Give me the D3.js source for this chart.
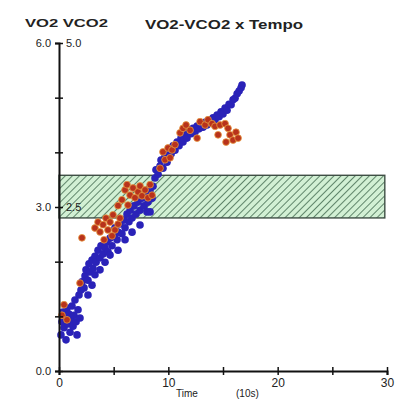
<!DOCTYPE html>
<html>
<head>
<meta charset="utf-8">
<script src="https://cdn.jsdelivr.net/npm/d3@7"></script>
<style>
  body { margin: 0; background: #fff; }
  text { font-family: "Liberation Sans", Arial, sans-serif; fill: #222; }
</style>
</head>
<body>
<svg id="chart"></svg>
<script>
// time in units of 10 s
var vo2Time = [0.18,0.27,0.37,0.46,0.55,0.64,0.73,0.82,0.91,1.01,1.10,1.19,1.28,1.37,1.46,1.56,1.65,1.74,1.83,1.92,
  2.01,2.10,2.29,2.38,2.47,2.65,2.74,2.84,3.02,3.11,3.29,3.39,3.57,3.75,3.84,4.03,4.21,4.39,4.48,4.67,4.85,5.03,5.12,5.31,5.40,
  5.58,5.76,5.95,6.04,6.22,6.40,6.50,6.68,6.86,7.04,7.23,7.41,7.59,7.78,7.96,8.14,8.33,8.51,8.60,8.78,8.87,9.06,9.24,9.33,9.51,
  9.70,9.88,10.06,10.25,10.43,10.61,10.80,10.98,11.16,11.34,11.53,11.71,11.89,12.08,12.26,12.44,12.63,12.81,12.99,13.17,13.36,
  13.54,13.72,13.91,14.09,14.27,14.46,14.64,14.82,15.00,15.19,15.37,15.55,15.74,15.92,16.10,16.29,16.47,16.65,16.74,
  3.29,3.75,4.21,4.67,5.40,6.04,6.68,7.41,8.05,8.33,2.65,3.02]
var vo2 = [0.66,0.90,1.08,0.79,0.97,0.57,1.15,0.86,1.04,0.71,0.93,1.19,0.82,1.02,1.30,0.90,0.66,1.12,1.39,0.97,
  1.48,1.63,1.52,1.74,1.85,1.66,1.96,1.81,2.03,1.88,2.10,1.99,2.21,2.07,2.29,2.14,2.25,2.36,2.18,2.43,2.29,2.47,2.62,2.40,2.54,
  2.69,2.51,2.76,2.62,2.87,2.73,2.94,2.80,3.02,2.87,3.09,2.94,3.16,3.02,3.24,3.09,3.31,3.16,3.38,3.53,3.68,3.60,3.75,3.86,3.71,
  3.93,3.82,4.04,3.97,4.12,4.04,4.19,4.12,4.26,4.19,4.34,4.26,4.41,4.34,4.44,4.37,4.48,4.43,4.52,4.46,4.55,
  4.50,4.59,4.55,4.63,4.59,4.68,4.65,4.74,4.70,4.81,4.77,4.88,4.87,4.96,4.99,5.07,5.12,5.18,5.23,
  1.76,1.85,1.99,2.12,2.21,2.40,2.54,2.67,2.91,2.91,1.39,1.57]

var vco2Time = [0.27,0.46,0.73,1.92,2.10,3.29,3.57,3.75,4.03,4.30,4.48,4.67,4.94,5.12,5.40,5.58,4.12,4.85,
  5.76,6.04,6.22,6.50,6.77,6.95,7.23,7.41,7.59,7.87,8.14,8.33,8.51,6.31,5.40,
  9.24,9.51,9.70,9.97,10.16,10.34,11.07,11.34,11.62,11.99,12.90,13.36,13.63,14.00,14.27,14.73,15.19,15.46,15.64,15.92,16.19,16.38,15.28,14.55,12.63,10.61]
var vco2 = [0.85,1.01,0.78,1.34,2.03,2.18,2.27,2.12,2.23,2.33,2.15,2.27,2.38,2.15,2.24,2.33,2.00,2.06,
  2.61,2.76,2.84,2.68,2.79,2.64,2.73,2.82,2.67,2.76,2.64,2.84,2.68,2.53,2.52,
  3.09,3.34,3.22,3.40,3.25,3.37,3.63,3.70,3.75,3.67,3.80,3.75,3.83,3.77,3.73,3.75,3.77,3.70,3.60,3.52,3.64,3.55,3.49,3.60,3.55,3.45]

var bandTime = [0, 29.8]
var bandVO2 = [2.8, 3.58]

var xTicks = [0, 5, 10, 15, 20, 25, 30]
var xTickLabels = ["0", "", "10", "", "20", "", "30"]
var yTicks = [0, 1, 2, 3, 4, 5, 6]
var yTickLabels = ["0.0", "", "", "3.0", "", "", "6.0"]
var y2Ticks = [2.5, 5]
var y2TickLabels = ["2.5", "5.0"]

var dimensions = {
  width: 398,
  height: 405,
  margin: { top: 43, bottom: 34, left: 59, right: 11 }
}

var svg = d3.select("#chart")
  .attr("width", dimensions.width)
  .attr("height", dimensions.height)

var xScale = d3.scaleLinear()
  .domain([0, 30])
  .range([dimensions.margin.left, dimensions.width - dimensions.margin.right])

var yScale = d3.scaleLinear()
  .domain([0, 6])
  .range([dimensions.height - dimensions.margin.bottom, dimensions.margin.top])

var y2Scale = d3.scaleLinear()
  .domain([0, 5])
  .range([dimensions.height - dimensions.margin.bottom, dimensions.margin.top])

// hatch pattern for the threshold band
var defs = svg.append("defs")
var pat = defs.append("pattern")
  .attr("id", "hatch")
  .attr("patternUnits", "userSpaceOnUse")
  .attr("width", 5)
  .attr("height", 5)
  .attr("patternTransform", "rotate(45)")
pat.append("rect").attr("width", 5).attr("height", 5).attr("fill", "#d2f0d4")
pat.append("line")
  .attr("x1", 0).attr("y1", 0).attr("x2", 0).attr("y2", 5)
  .attr("stroke", "#41694f").attr("stroke-width", 1.6)

svg.append("rect")
  .attr("x", xScale(bandTime[0]))
  .attr("y", yScale(bandVO2[1]))
  .attr("width", xScale(bandTime[1]) - xScale(bandTime[0]))
  .attr("height", yScale(bandVO2[0]) - yScale(bandVO2[1]))
  .attr("fill", "url(#hatch)")
  .attr("stroke", "#3f4f45")
  .attr("stroke-width", 1.4)

// points
var vo2Data = vo2Time.map((t, i) => ({ t: t, v: vo2[i] }))
var vco2Data = vco2Time.map((t, i) => ({ t: t, v: vco2[i] }))

svg.append("g")
  .selectAll("circle")
  .data(vo2Data)
  .enter()
  .append("circle")
  .attr("cx", d => xScale(d.t))
  .attr("cy", d => yScale(d.v))
  .attr("r", 3.8)
  .attr("fill", "#2a22b8")

svg.append("g")
  .selectAll("circle")
  .data(vco2Data)
  .enter()
  .append("circle")
  .attr("cx", d => xScale(d.t))
  .attr("cy", d => y2Scale(d.v))
  .attr("r", 3.4)
  .attr("fill", "#b8321c")
  .attr("stroke", "#e89a40")
  .attr("stroke-width", 0.8)

// axes
var xAxisGen = d3.axisBottom(xScale)
  .tickValues(xTicks)
  .tickSize(4)
  .tickPadding(3)
  .tickFormat((d, i) => xTickLabels[i])
var xAxis = svg.append("g")
  .attr("transform", `translate(0,${yScale(0)})`)
  .call(xAxisGen)
xAxis.select(".domain").attr("stroke-width", 2).attr("stroke", "#111")
xAxis.selectAll(".tick line").attr("y1", -4).attr("stroke-width", 1.5).attr("stroke", "#111")
xAxis.selectAll("text").style("font-size", "12px").attr("fill", "#222")

var yAxisGen = d3.axisLeft(yScale)
  .tickValues(yTicks)
  .tickSize(4)
  .tickPadding(4)
  .tickFormat((d, i) => yTickLabels[i])
var yAxis = svg.append("g")
  .attr("transform", `translate(${xScale(0)},0)`)
  .call(yAxisGen)
yAxis.select(".domain").attr("stroke-width", 2).attr("stroke", "#111")
yAxis.selectAll(".tick line").attr("x1", 4).attr("stroke-width", 1.5).attr("stroke", "#111")
yAxis.selectAll("text").style("font-size", "11px").attr("fill", "#222")

var y2AxisGen = d3.axisRight(y2Scale)
  .tickValues(y2Ticks)
  .tickSize(0)
  .tickPadding(7)
  .tickFormat((d, i) => y2TickLabels[i])
var y2Axis = svg.append("g")
  .attr("transform", `translate(${xScale(0)},0)`)
  .call(y2AxisGen)
y2Axis.select(".domain").remove()
y2Axis.selectAll("text").style("font-size", "11px").attr("fill", "#222")

// labels
svg.append("text")
  .attr("x", 25)
  .attr("y", 27)
  .attr("textLength", 83)
  .attr("lengthAdjust", "spacingAndGlyphs")
  .style("font-size", "11px")
  .style("font-weight", "bold")
  .text("VO2  VCO2")

svg.append("text")
  .attr("x", 145)
  .attr("y", 29)
  .attr("textLength", 158)
  .attr("lengthAdjust", "spacingAndGlyphs")
  .style("font-size", "13px")
  .style("font-weight", "bold")
  .text("VO2-VCO2 x Tempo")

svg.append("text")
  .attr("x", 176)
  .attr("y", 397)
  .style("font-size", "10px")
  .text("Time")

svg.append("text")
  .attr("x", 236)
  .attr("y", 397)
  .style("font-size", "10px")
  .text("(10s)")
</script>
</body>
</html>
